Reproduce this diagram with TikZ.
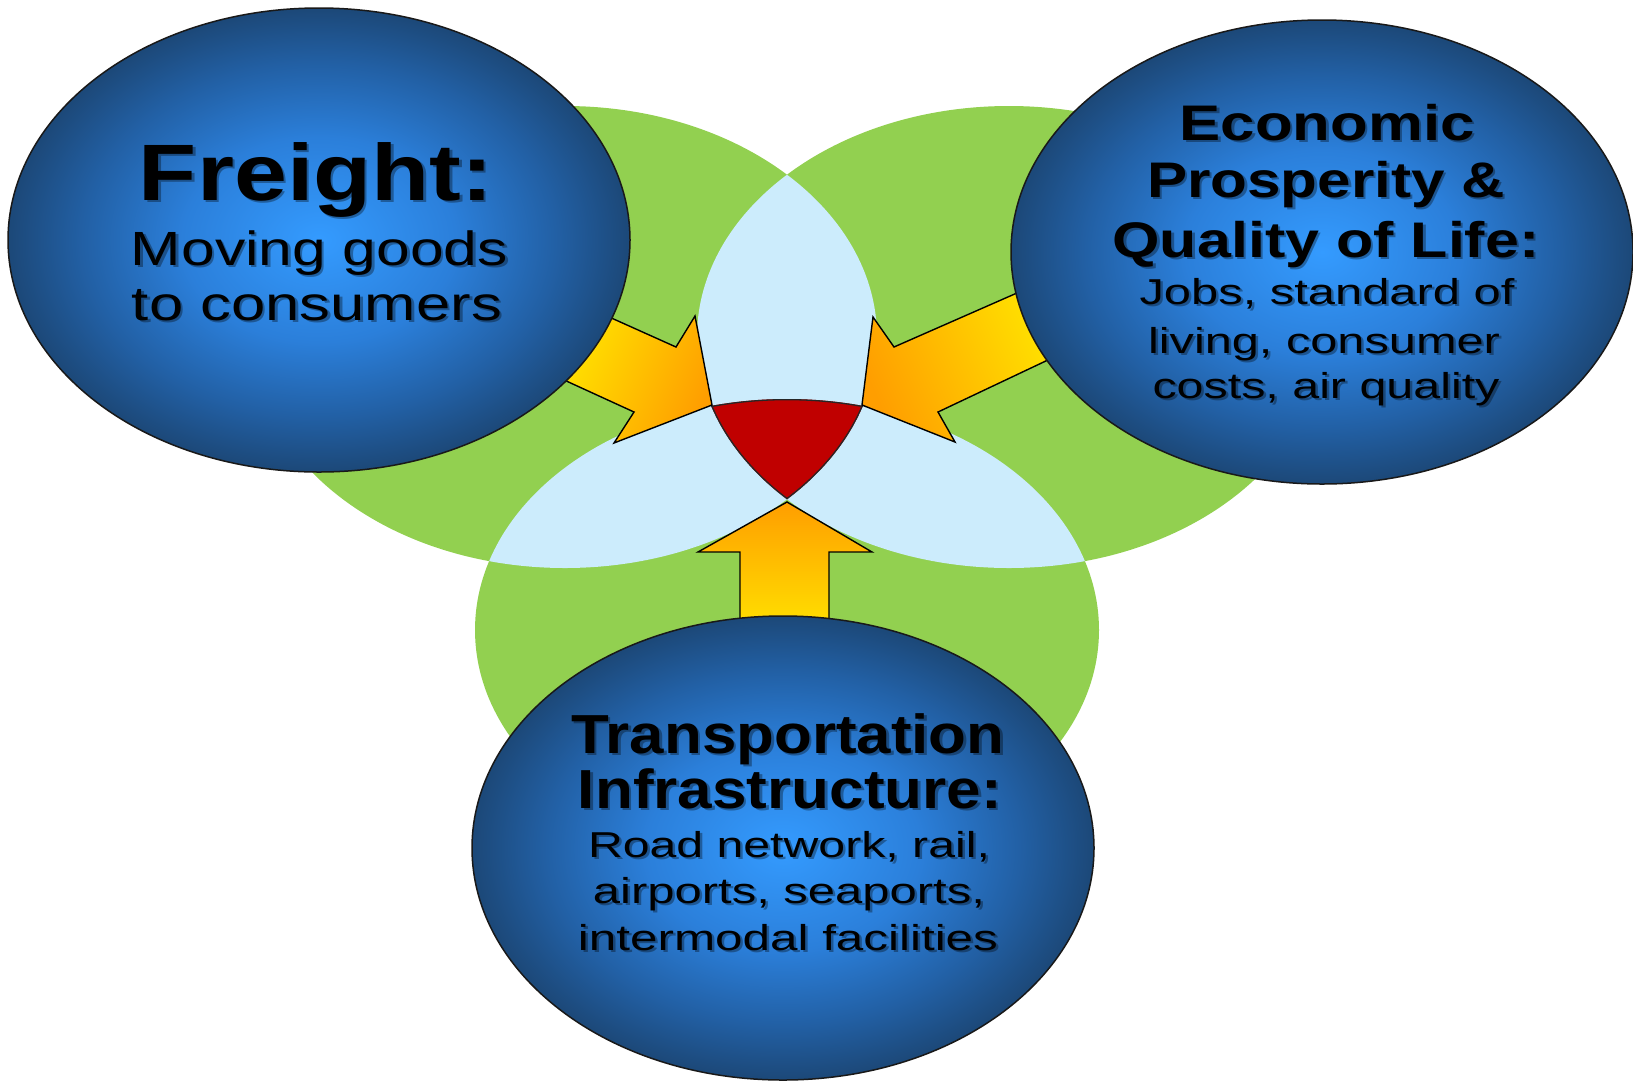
\documentclass[tikz,border=0pt]{standalone}
\usepackage{fontspec}
\setmainfont{Liberation Sans}
\usepackage{graphicx}
\usetikzlibrary{shapes.geometric}

% palette
\definecolor{venngreen}{RGB}{146,208,80}
\definecolor{lensblue}{RGB}{204,236,252}
\definecolor{corered}{RGB}{192,0,0}
\definecolor{ballin}{RGB}{52,155,255}
\definecolor{ballmid}{RGB}{43,127,218}
\definecolor{balldeep}{RGB}{34,96,165}
\definecolor{ballrim}{RGB}{28,72,120}
\definecolor{arrowyellow}{RGB}{255,230,0}
\definecolor{arroworange}{RGB}{255,158,0}

% glossy blue disc: bright centre, dark navy rim
\pgfdeclareradialshading{blueball}{\pgfpoint{0bp}{0bp}}{%
  color(0bp)=(ballin); color(11bp)=(ballmid); color(19bp)=(balldeep);
  color(25bp)=(ballrim); color(50bp)=(ballrim)}

\newcommand{\fsz}[1]{\fontsize{#1}{#1}\selectfont}
% one text row: name, x, baseline y, printed width, font, text
\newcommand{\textrow}[6]{%
  \node[rowshadow] (#1s) at ([xshift=2.5pt,yshift=-2.5pt]#2,#3)
    {\resizebox{#4pt}{\height}{#5#6}};
  \node[row] (#1) at (#2,#3) {\resizebox{#4pt}{\height}{#5#6}};
}

\tikzset{
  vsize/.style={x radius=312, y radius=231},
  row/.style={anchor=base, inner sep=0pt, outer sep=0pt, text=black},
  rowshadow/.style={row, text opacity=0.33},
  arrowbody/.style={draw=black, line width=1.4pt, line join=miter,
    top color=arroworange, bottom color=arrowyellow},
  bluedisc/.style={ellipse, minimum width=622pt, minimum height=464pt,
    inner sep=0pt, draw=black!90, line width=1.5pt, shade, shading=blueball},
}

\begin{document}
\begin{tikzpicture}[x=1pt, y=-1pt]
\useasboundingbox (0,0) rectangle (1633,1080);
\fill[white] (0,0) rectangle (1633,1080);

% three overlapping sets
\fill[venngreen] (565,337) ellipse [vsize];
\fill[venngreen] (1009,337) ellipse [vsize];
\fill[venngreen] (787,630) ellipse [vsize];

% pairwise overlaps
\begin{scope}
  \clip (565,337) ellipse [vsize];
  \fill[lensblue] (1009,337) ellipse [vsize];
  \fill[lensblue] (787,630) ellipse [vsize];
\end{scope}
\begin{scope}
  \clip (1009,337) ellipse [vsize];
  \fill[lensblue] (787,630) ellipse [vsize];
\end{scope}

% common core
\begin{scope}
  \clip (565,337) ellipse [vsize];
  \clip (1009,337) ellipse [vsize];
  \clip (787,630) ellipse [vsize];
  \fill[corered] (0,0) rectangle (1633,1080);
  \draw[line width=2.6pt, black!85] (565,337) ellipse [vsize];
  \draw[line width=2.6pt, black!85] (1009,337) ellipse [vsize];
  \draw[line width=2.6pt, black!85] (787,630) ellipse [vsize];
\end{scope}

% block arrows pointing at the core
\shadedraw[arrowbody, shading angle=-114]
  (598,312) -- (676,347) -- (695,316) -- (712,405) -- (614,443) -- (634,412) -- (551,374) -- cycle;
\shadedraw[arrowbody, shading angle=114]
  (1042,282) -- (894,347) -- (873,317) -- (862,405) -- (955,442) -- (938,412) -- (1069,350) -- cycle;
\shadedraw[arrowbody]
  (787,502) -- (872,552) -- (829,552) -- (829,640) -- (740,640) -- (740,552) -- (698,552) -- cycle;

% the three themes
\node[bluedisc] (freight) at (319,240) {};
\node[bluedisc] (econ) at (1322,252) {};
\node[bluedisc] (infra) at (783,848) {};

\textrow{fr1}{316}{200}{354}{\bfseries\fsz{80}}{Freight:}
\textrow{fr2}{319.5}{265}{377}{\fsz{48}}{Moving goods}
\textrow{fr3}{317}{320}{370}{\fsz{48}}{to consumers}

\textrow{ec1}{1327}{140}{295}{\bfseries\fsz{50}}{Economic}
\textrow{ec2}{1326}{197}{358}{\bfseries\fsz{50}}{Prosperity \&}
\textrow{ec3}{1326}{257}{427}{\bfseries\fsz{50}}{Quality of Life:}
\textrow{ec4}{1327}{304}{375}{\fsz{36}}{Jobs, standard of}
\textrow{ec5}{1324}{353}{352}{\fsz{36}}{living, consumer}
\textrow{ec6}{1326}{398}{347}{\fsz{36}}{costs, air quality}

\textrow{tr1}{788}{753}{433}{\bfseries\fsz{55}}{Transportation}
\textrow{tr2}{790}{808}{424}{\bfseries\fsz{55}}{Infrastructure:}
\textrow{tr3}{789}{857}{402}{\fsz{36}}{Road network, rail,}
\textrow{tr4}{789}{903}{392}{\fsz{36}}{airports, seaports,}
\textrow{tr5}{788}{950}{420}{\fsz{36}}{intermodal facilities}
\end{tikzpicture}
\end{document}
